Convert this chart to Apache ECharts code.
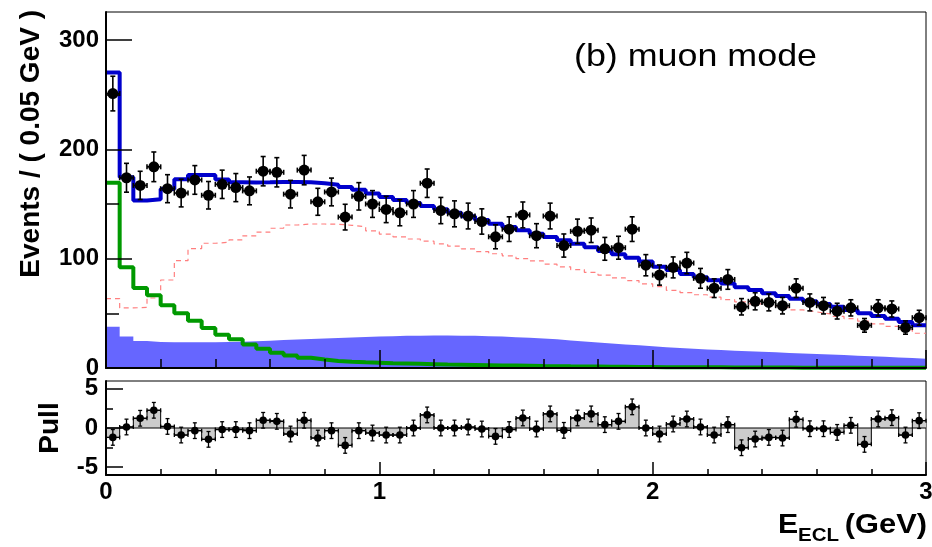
<!DOCTYPE html>
<html>
<head>
<meta charset="utf-8">
<script src="https://cdn.jsdelivr.net/npm/echarts@6/dist/echarts.min.js"></script>
<style>
  html, body { margin: 0; padding: 0; background: #ffffff; }
  #chart { width: 932px; height: 547px; }
</style>
</head>
<body>
<div id="chart"></div>
<script>
// Binning of the E_ECL histogram (GeV)
const BIN_LOW = 0;
const BIN_WIDTH = 0.05;

// Observed events per bin
const dataCounts = [251,174,167,184,164,160,172,158,168,165,162,180,179,159,181,152,161,138,157,150,
                    145,142,150,169,144,141,139,134,120,127,140,121,139,112,125,126,109,110,127,94,
                    85,92,96,82,73,81,56,61,60,57,73,60,57,52,55,39,55,54,37,46];

// Total fit (solid blue)
const totalFit = [270.2,174.5,153.1,154.3,163.8,172.6,176.6,176.6,172.3,170,169.6,169.8,170.2,170.2,169.8,169,167.6,165.6,163,159.5,
                  156.4,153.7,151,148.2,145.2,142.1,138.8,135.4,132,129,126,122.9,119.9,116.8,113.7,110.4,107,104,100.9,97.5,
                  92.7,89.7,86,83,80.2,77.2,73.8,71.4,68.3,65.9,63.4,61,58.6,56.1,53.1,50,47.6,45.1,42.1,39.1];

// Peaking component (green)
const peakingComp = [169.5,92.1,73.2,66.5,57.3,50,43.3,36.6,30.5,26.3,21.5,17.5,14,11.5,9.3,7.7,6.5,5.8,5.2,4.8,
                     4.4,4.1,3.8,3.5,3.2,3,2.8,2.6,2.4,2.2,2,1.8,1.7,1.5,1.4,1.3,1.2,1.1,1,0.9,
                     0.8,0.8,0.7,0.6,0.6,0.5,0.5,0.4,0.4,0.4,0.3,0.3,0.3,0.3,0.2,0.2,0.2,0.2,0.2,0.2];

// Filled background component (blue area)
const filledComp = [37.8,28.7,24.7,23.8,23.6,23.5,23.5,23.6,23.8,24.1,24.5,25,25.5,26,26.5,27,27.5,28,28.4,28.8,
                    29.1,29.4,29.6,29.7,29.7,29.6,29.4,29.1,28.7,28.2,27.6,26.9,26.2,25.2,24.3,23.4,22.5,21.6,20.7,19.8,
                    19,18.3,17.6,17,16.4,15.8,15.3,14.8,14.3,13.8,13.3,12.8,12.3,11.8,11.3,10.8,10.3,9.7,9.1,8.4];

// Dashed red component
const dashedComp = [63.4,54.9,55.5,64,80.5,98.2,109.2,114.1,115,117.1,120.8,124.2,127.8,130.8,131.7,131.7,131.5,130.5,129.3,125.5,
                    122.5,120,118,116,113.5,111.5,109,106.5,104.5,102.5,100,98,95,92.5,90,87.5,85,82.5,80,77,
                    74.5,71,69,67,64.8,62.5,60.5,58.6,56.8,55,53.1,51.3,49.5,47.2,45.2,42.8,40.4,38,35,31.8];

// Pull per bin
const pullValues = [-1.2,0.13,1.24,2.26,0.2,-0.9,-0.34,-1.45,-0.2,-0.2,-0.34,0.98,0.85,-0.77,0.98,-1.28,-0.34,-2.22,-0.34,-0.64,
                    -0.9,-0.9,0,1.67,0,0,0.13,-0.13,-1.07,-0.2,1.28,-0.13,1.8,-0.3,1.28,1.8,0.43,0.85,2.7,0,
                    -0.77,0.51,1.15,0.13,-0.9,0.43,-2.52,-1.41,-1.2,-1.28,1.11,-0.09,-0.09,-0.56,0.34,-2.09,1.15,1.32,-0.9,0.94];

// Axis ranges and tick labels
const X_MIN = 0, X_MAX = 3;
const Y_MAX = 325.6;
const PULL_MIN = -6, PULL_MAX = 6;
const xTickLabels = [0, 1, 2, 3];
const yTickLabels = [0, 100, 200, 300];
const yMinorTicks = [50, 150, 250];
const pullTickLabels = [-5, 0, 5];
const pullMinorTicks = [-2.5, 2.5];

const FONT = '"Liberation Sans", Arial, Helvetica, sans-serif';

// Step outline through bin edges: [edge_i, v_i] ... [edge_n, v_last]
function histSteps(values) {
  const pts = values.map((v, i) => [BIN_LOW + i * BIN_WIDTH, v]);
  pts.push([BIN_LOW + values.length * BIN_WIDTH, values[values.length - 1]]);
  return pts;
}
const binCenter = i => BIN_LOW + (i + 0.5) * BIN_WIDTH;

const pointsMain = dataCounts.map((n, i) => [binCenter(i), n, Math.sqrt(n), BIN_WIDTH / 2]);
const pointsPull = pullValues.map((p, i) => [binCenter(i), p, 1, BIN_WIDTH / 2]);

// Error bars with end caps and a round marker
function errorBarRenderer(cap, radius, lw) {
  return function (params, api) {
    const x = api.value(0), y = api.value(1), ey = api.value(2), ex = api.value(3);
    const c = api.coord([x, y]);
    const top = api.coord([x, y + ey])[1];
    const bot = api.coord([x, y - ey])[1];
    const left = api.coord([x - ex, y])[0];
    const right = api.coord([x + ex, y])[0];
    const st = { stroke: '#000', lineWidth: lw, fill: null };
    return {
      type: 'group',
      children: [
        { type: 'line', shape: { x1: c[0], y1: top, x2: c[0], y2: bot }, style: st },
        { type: 'line', shape: { x1: c[0] - cap, y1: top, x2: c[0] + cap, y2: top }, style: st },
        { type: 'line', shape: { x1: c[0] - cap, y1: bot, x2: c[0] + cap, y2: bot }, style: st },
        { type: 'line', shape: { x1: left, y1: c[1], x2: right, y2: c[1] }, style: st },
        { type: 'line', shape: { x1: left, y1: c[1] - cap, x2: left, y2: c[1] + cap }, style: st },
        { type: 'line', shape: { x1: right, y1: c[1] - cap, x2: right, y2: c[1] + cap }, style: st },
        { type: 'circle', shape: { cx: c[0], cy: c[1], r: radius }, style: { fill: '#000' } }
      ]
    };
  };
}

const tickLabelStyle = { color: '#000', fontFamily: FONT, fontWeight: 'bold', fontSize: 24 };

const chart = echarts.init(document.getElementById('chart'), null, { renderer: 'canvas' });

const option = {
  animation: false,
  backgroundColor: '#ffffff',
  grid: [
    { left: 106, top: 12, width: 820, height: 356, show: true, borderColor: '#000', borderWidth: 1,
      backgroundColor: 'transparent', containLabel: false, outerBoundsMode: 'none' },
    { left: 106, top: 381, width: 820, height: 94, show: true, borderColor: '#000', borderWidth: 1,
      backgroundColor: 'transparent', containLabel: false, outerBoundsMode: 'none' }
  ],
  xAxis: [
    { type: 'value', gridIndex: 0, min: X_MIN, max: X_MAX, interval: 1, z: 5,
      axisLine: { show: true, onZero: false, lineStyle: { color: '#000', width: 2 } },
      axisTick: { show: true, inside: true, length: 18, lineStyle: { color: '#000', width: 1.5 } },
      minorTick: { show: true, splitNumber: 5, length: 9, lineStyle: { color: '#000', width: 1.5 } },
      axisLabel: { show: false }, splitLine: { show: false } },
    { type: 'value', gridIndex: 1, min: X_MIN, max: X_MAX, interval: 1, z: 5,
      axisLine: { show: true, onZero: false, lineStyle: { color: '#000', width: 2 } },
      axisTick: { show: true, inside: true, length: 13, lineStyle: { color: '#000', width: 1.5 } },
      minorTick: { show: true, splitNumber: 5, length: 6, lineStyle: { color: '#000', width: 1.5 } },
      axisLabel: Object.assign({ show: true, margin: 5, customValues: xTickLabels }, tickLabelStyle),
      splitLine: { show: false } }
  ],
  yAxis: [
    { type: 'value', gridIndex: 0, min: 0, max: Y_MAX, position: 'left', z: 5,
      axisLine: { show: true, onZero: false, lineStyle: { color: '#000', width: 2 } },
      axisTick: { show: true, inside: true, length: 26, customValues: yTickLabels, lineStyle: { color: '#000', width: 1.5 } },
      axisLabel: Object.assign({ show: true, margin: 7, customValues: yTickLabels }, tickLabelStyle),
      splitLine: { show: false } },
    { type: 'value', gridIndex: 0, min: 0, max: Y_MAX, position: 'left', offset: 0, z: 5,
      axisLine: { show: false },
      axisTick: { show: true, inside: true, length: 13, customValues: yMinorTicks, lineStyle: { color: '#000', width: 1.5 } },
      axisLabel: { show: false }, splitLine: { show: false } },
    { type: 'value', gridIndex: 1, min: PULL_MIN, max: PULL_MAX, position: 'left', z: 5,
      axisLine: { show: true, onZero: false, lineStyle: { color: '#000', width: 2 } },
      axisTick: { show: true, inside: true, length: 17, customValues: pullTickLabels, lineStyle: { color: '#000', width: 1.5 } },
      axisLabel: Object.assign({ show: true, margin: 8, customValues: pullTickLabels }, tickLabelStyle),
      splitLine: { show: false } },
    { type: 'value', gridIndex: 1, min: PULL_MIN, max: PULL_MAX, position: 'left', offset: 0, z: 5,
      axisLine: { show: false },
      axisTick: { show: true, inside: true, length: 7, customValues: pullMinorTicks, lineStyle: { color: '#000', width: 1.5 } },
      axisLabel: { show: false }, splitLine: { show: false } }
  ],
  series: [
    { name: 'filled', type: 'line', xAxisIndex: 0, yAxisIndex: 0, step: 'end', symbol: 'none', z: 1,
      data: histSteps(filledComp), lineStyle: { width: 0, color: '#6666ff' },
      areaStyle: { color: '#6666ff', opacity: 1 } },
    { name: 'dashed', type: 'line', xAxisIndex: 0, yAxisIndex: 0, step: 'end', symbol: 'none', z: 2,
      data: histSteps(dashedComp), lineStyle: { width: 1.2, color: '#ff7f7f', type: [5, 4] } },
    { name: 'peaking', type: 'line', xAxisIndex: 0, yAxisIndex: 0, step: 'end', symbol: 'none', z: 3,
      data: histSteps(peakingComp), lineStyle: { width: 4, color: '#009900' } },
    { name: 'total', type: 'line', xAxisIndex: 0, yAxisIndex: 0, step: 'end', symbol: 'none', z: 4,
      data: histSteps(totalFit), lineStyle: { width: 4, color: '#0000cc' } },
    { name: 'data', type: 'custom', xAxisIndex: 0, yAxisIndex: 0, z: 6,
      data: pointsMain, renderItem: errorBarRenderer(2.5, 5.5, 1.6) },

    { name: 'pullHist', type: 'line', xAxisIndex: 1, yAxisIndex: 2, step: 'end', symbol: 'none', z: 2,
      data: histSteps(pullValues), lineStyle: { width: 1, color: '#000' },
      areaStyle: { color: '#cccccc', opacity: 1, origin: 0 } },
    { name: 'zero', type: 'line', xAxisIndex: 1, yAxisIndex: 2, symbol: 'none', z: 3,
      data: [[X_MIN, 0], [X_MAX, 0]], lineStyle: { width: 1, color: '#000' } },
    { name: 'pullPoints', type: 'custom', xAxisIndex: 1, yAxisIndex: 2, z: 6,
      data: pointsPull, renderItem: errorBarRenderer(2, 3.8, 1.3) }
  ],
  graphic: [
    { type: 'text', x: 574, y: 57, scaleX: 1.12, z: 20,
      style: { text: '(b) muon mode', font: 'normal 32px ' + FONT, fill: '#000',
               textAlign: 'left', textVerticalAlign: 'middle' } },
    { type: 'text', x: 31, y: 10, rotation: Math.PI / 2, z: 20,
      style: { text: 'Events / ( 0.05 GeV )', font: 'bold 28px ' + FONT, fill: '#000',
               textAlign: 'right', textVerticalAlign: 'middle' } },
    { type: 'text', x: 50, y: 428, rotation: Math.PI / 2, z: 20,
      style: { text: 'Pull', font: 'bold 28px ' + FONT, fill: '#000',
               textAlign: 'center', textVerticalAlign: 'middle' } },
    { type: 'text', x: 778, y: 525, scaleX: 1.08, z: 20,
      style: { text: 'E', font: 'bold 28px ' + FONT, fill: '#000',
               textAlign: 'left', textVerticalAlign: 'middle' } },
    { type: 'text', x: 798, y: 536, scaleX: 1.08, z: 20,
      style: { text: 'ECL', font: 'bold 19px ' + FONT, fill: '#000',
               textAlign: 'left', textVerticalAlign: 'middle' } },
    { type: 'text', x: 927, y: 525, scaleX: 1.1, z: 20,
      style: { text: '(GeV)', font: 'bold 28px ' + FONT, fill: '#000',
               textAlign: 'right', textVerticalAlign: 'middle' } }
  ]
};

chart.setOption(option);
</script>
</body>
</html>
